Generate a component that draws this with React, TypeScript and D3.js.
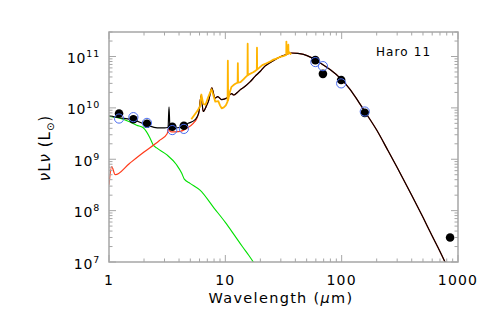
import React from 'react';
import * as d3 from 'd3';

// photometry (black dots)
const obsWave = [1.22, 1.62, 2.12, 3.5, 4.4, 59.4, 69, 99, 158, 855];
const obsLum = [7.8e9, 6.0e9, 4.9e9, 4.3e9, 4.5e9, 8.5e10, 4.6e10, 3.5e10, 8.0e9, 3.0e7];

// model photometry (blue open circles)
const synWave = [1.22, 1.62, 2.12, 3.5, 4.4, 59.4, 69, 99, 158];
const synLum = [6.2e9, 6.6e9, 5.1e9, 3.7e9, 3.9e9, 7.8e10, 6.5e10, 3.0e10, 8.5e9];

// total model (black)
const totalWave = [1.0, 1.2, 1.6, 2.1, 2.6, 3.0, 3.22, 3.28, 3.34, 3.6, 4.2, 4.8, 5.5, 5.9, 6.2,
  6.45, 6.85, 7.2, 7.65, 8.15, 8.6, 9.3, 10.3, 11.3, 11.8, 12.7, 13.4, 14.8, 16.3, 18.0,
  19.9, 21.9, 24.2, 26.7, 29.5, 32.6, 37, 42, 47, 55, 65, 80, 97, 118, 135,
  158, 200, 250, 300, 400, 500, 600, 700, 800, 900];
const totalLum = [7.1e9, 6.5e9, 5.9e9, 4.7e9, 4.1e9, 4.1e9, 4.2e9, 1.05e10, 4.2e9, 4.1e9, 4.2e9, 5.0e9, 5.9e9, 7.9e9, 1.74e10,
  8.5e9, 1.07e10, 1.4e10, 2.45e10, 1.55e10, 1.66e10, 1.45e10, 1.55e10, 1.9e10, 1.78e10, 2.0e10, 2.24e10, 2.63e10, 3.2e10, 4.1e10,
  5.1e10, 6.5e10, 7.6e10, 8.7e10, 9.8e10, 1.07e11, 1.17e11, 1.15e11, 1.10e11, 9.5e10, 7.6e10, 5.5e10, 3.8e10, 2.3e10, 1.48e10,
  8.5e9, 3.7e9, 1.48e9, 6.9e8, 2.0e8, 7.4e7, 3.2e7, 1.6e7, 8.5e6, 4.8e6];

// dust component, near-IR part (red); joins the total beyond ~6 micron
const dustWave = [1.0, 1.055, 1.13, 1.5, 2.0, 2.7, 3.15, 3.24, 3.28, 3.34, 3.45, 4.1, 4.65, 5.3, 5.7];
const dustLum = [3.2e8, 7.2e8, 5.0e8, 8.3e8, 1.38e9, 2.3e9, 3.1e9, 3.8e9, 4.0e9, 3.5e9, 3.4e9, 3.5e9, 4.0e9, 5.0e9, 6.3e9];

// stellar component (green)
const starWave = [1.0, 1.24, 1.5, 1.73, 1.97, 2.25, 2.4, 2.57, 3.13, 3.81, 4.21, 4.44, 4.97, 6.06, 8, 10, 12, 14, 16, 18];
const starLum = [6.8e9, 6.3e9, 5.4e9, 4.6e9, 4.1e9, 2.6e9, 1.9e9, 1.66e9, 1.23e9, 7.8e8, 5.4e8, 4.1e8, 3.4e8, 2.5e8,
  1.12e8, 5.9e7, 3.3e7, 2.0e7, 1.32e7, 8.9e6];

// IRS spectrum (orange)
const irsWave = [5.1, 5.4, 5.7, 6.05, 6.22, 6.45, 6.75, 7.1, 7.6, 7.9, 8.2, 8.7, 9.0, 9.3, 9.7,
  10.1, 10.45, 10.51, 10.57, 10.9, 11.3, 11.7, 12.2, 12.75, 12.81, 12.87, 13.5, 14.3, 15.0, 15.5,
  15.56, 15.62, 16.3, 17.2, 18.0, 18.65, 18.71, 18.77, 19.5, 20.8, 22.6, 24.5, 25.9, 27.5, 29.5,
  31.5, 33.4, 33.48, 33.56, 34.3, 34.8, 34.9, 35.6, 36.3, 36.8];
const irsLum = [6.0e9, 7.2e9, 8.5e9, 1.05e10, 1.82e10, 1.2e10, 1.15e10, 1.58e10, 2.3e10, 1.74e10, 1.32e10, 1.35e10, 1.12e10, 9.8e9, 1.02e10,
  1.12e10, 1.32e10, 8.3e10, 1.41e10, 2.0e10, 2.57e10, 2.75e10, 2.95e10, 3.1e10, 7.4e10, 3.1e10, 3.16e10, 3.6e10, 4.0e10, 4.3e10,
  1.78e11, 4.3e10, 4.6e10, 4.9e10, 5.2e10, 5.5e10, 1.48e11, 5.6e10, 6.0e10, 6.8e10, 7.4e10, 8.1e10, 8.7e10, 9.1e10, 9.8e10,
  1.02e11, 1.07e11, 1.95e11, 1.10e11, 1.12e11, 1.7e11, 1.15e11, 1.2e11, 1.12e11, 1.17e11];

const xTickLabels = ['1', '10', '100', '1000'];
const yTickExps = [7, 8, 9, 10, 11];
const title = 'Haro 11';

const W = 491, H = 327;
const L = 109, R = 458, T = 32, B = 262;
const axisColor = '#a6a6a6';
const font = 'DejaVu Sans, sans-serif';

const pairs = (w: number[], l: number[]) => w.map((v, i) => [v, l[i]] as [number, number]);

export default function App() {
  const x = d3.scaleLog().domain([1, 1000]).range([L, R]);
  const y = d3.scaleLog().domain([1e7, 3e11]).range([B, T]);

  const smooth = d3.line<[number, number]>().x(d => x(d[0])).y(d => y(d[1])).curve(d3.curveMonotoneX);
  const straight = d3.line<[number, number]>().x(d => x(d[0])).y(d => y(d[1]));

  const total = pairs(totalWave, totalLum);
  const dust = [...pairs(dustWave, dustLum), ...total.filter(d => d[0] >= 5.9)];
  const stars = pairs(starWave, starLum);
  const irs = pairs(irsWave, irsLum);

  const xt = x.ticks();
  const yt = y.ticks();
  const isMajor = (v: number) => Math.abs(Math.log10(v) - Math.round(Math.log10(v))) < 1e-6;
  const major = 7, minor = 3.5;

  return (
    <div>
      <style>{'body{margin:0}'}</style>
      <svg width={W} height={H} style={{ display: 'block', background: '#fff' }} fontFamily={font}>
        <defs>
          <clipPath id="plot">
            <rect x={L} y={T} width={R - L} height={B - T} />
          </clipPath>
        </defs>

        <g clipPath="url(#plot)" fill="none">
          <path d={smooth(stars) || ''} stroke="#00e000" strokeWidth={1.1} />
          <path d={smooth(dust) || ''} stroke="#ff3a1a" strokeWidth={1.2} />
          <path d={smooth(total) || ''} stroke="#000" strokeWidth={1.2} />
          <path d={straight(irs) || ''} stroke="#ffb400" strokeWidth={1.8} strokeLinejoin="round" />
        </g>

        {obsWave.map((w, i) => (
          <circle key={'o' + i} cx={x(w)} cy={y(obsLum[i])} r={4.3} fill="#000" />
        ))}
        {synWave.map((w, i) => (
          <circle key={'s' + i} cx={x(w)} cy={y(synLum[i])} r={4.6} fill="none" stroke="#4a6cf0" strokeWidth={1} />
        ))}

        {/* frame */}
        <rect x={L} y={T} width={R - L} height={B - T} fill="none" stroke={axisColor} strokeWidth={1.5} />
        {xt.map((v, i) => {
          const len = isMajor(v) ? major : minor;
          return (
            <g key={'xt' + i} stroke={axisColor} strokeWidth={1}>
              <line x1={x(v)} x2={x(v)} y1={B} y2={B - len} />
              <line x1={x(v)} x2={x(v)} y1={T} y2={T + len} />
            </g>
          );
        })}
        {yt.map((v, i) => {
          const len = isMajor(v) ? major : minor;
          return (
            <g key={'yt' + i} stroke={axisColor} strokeWidth={1}>
              <line x1={L} x2={L + len} y1={y(v)} y2={y(v)} />
              <line x1={R} x2={R - len} y1={y(v)} y2={y(v)} />
            </g>
          );
        })}

        {xTickLabels.map(s => (
          <text key={s} x={x(+s)} y={285} textAnchor="middle" fontSize={14} letterSpacing={1.2} fill="#000">{s}</text>
        ))}
        {yTickExps.map(e => (
          <text key={e} x={100} y={y(Math.pow(10, e)) + 6.5} textAnchor="end" fontSize={14} letterSpacing={0.8} fill="#000">
            10<tspan fontSize={9.5} dy={-6}>{e}</tspan>
          </text>
        ))}

        <text x={281} y={303} textAnchor="middle" fontSize={14.5} letterSpacing={1.3} fill="#000">
          Wavelength (<tspan fontStyle="italic">μ</tspan>m)
        </text>
        <text transform="translate(50,148) rotate(-90)" textAnchor="middle" fontSize={15} letterSpacing={1} fill="#000">
          <tspan fontStyle="italic">ν</tspan>L<tspan fontStyle="italic">ν</tspan> (L<tspan fontSize={10} dy={4}>⊙</tspan><tspan dy={-4}>)</tspan>
        </text>
        <text x={376} y={56} fontSize={12} letterSpacing={1.1} fill="#000">{title}</text>
      </svg>
    </div>
  );
}
